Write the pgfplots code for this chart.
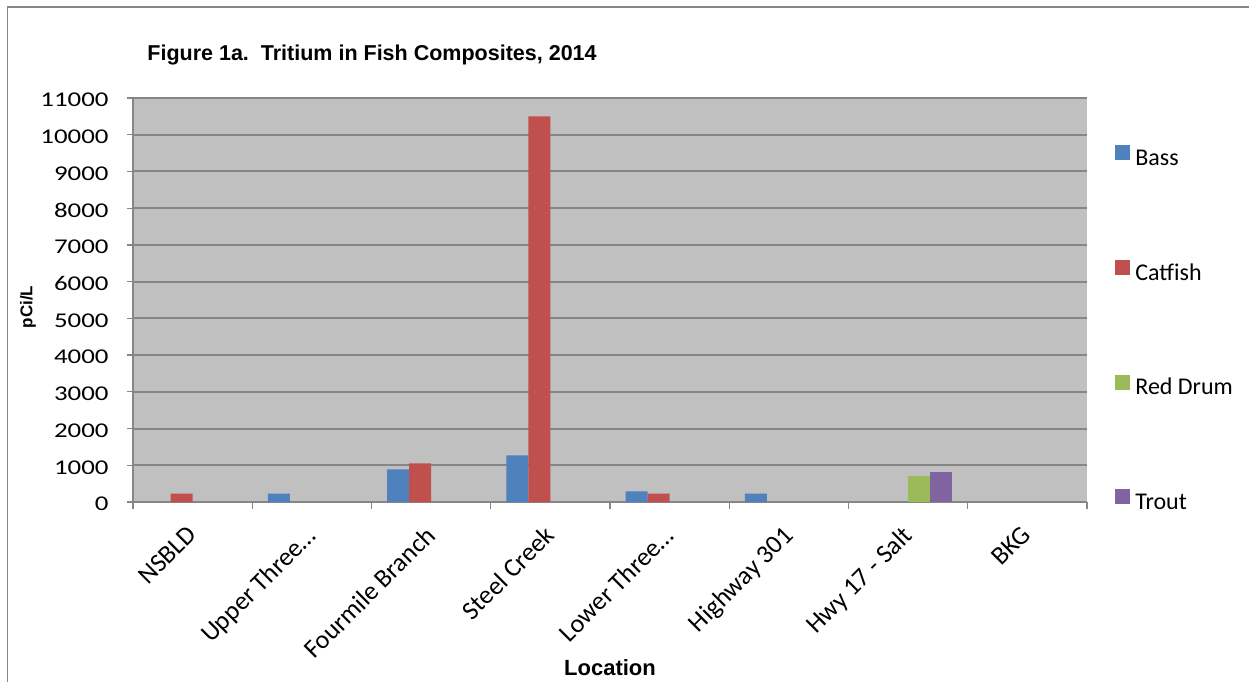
\documentclass[border=0pt]{standalone}
\usepackage{fontspec}
\setmainfont{Carlito}
\newfontfamily\arialfont{Liberation Sans}
\newfontfamily\ytickfont[FakeStretch=1.28]{Carlito}
\usepackage{pgfplots}
\pgfplotsset{compat=1.18}

\definecolor{bass}{HTML}{4F81BD}
\definecolor{catfish}{HTML}{C0504D}
\definecolor{reddrum}{HTML}{9BBB59}
\definecolor{trout}{HTML}{8064A2}
\definecolor{plotbg}{HTML}{C0C0C0}
\definecolor{gridgray}{HTML}{868686}

\begin{document}
\begin{tikzpicture}
\useasboundingbox (0,0) rectangle (624.5pt,-340.5pt);
\draw[gridgray, line width=0.7pt] (3.8pt,-345pt) -- (3.8pt,-3.4pt) -- (630pt,-3.4pt);
\begin{axis}[
  at={(66.5pt,-251pt)}, anchor=south west,
  scale only axis, width=477pt, height=202pt,
  axis background/.style={fill=plotbg},
  axis x line=bottom, axis y line=left,
  axis line style={-, draw=gridgray, line width=1pt},
  xmin=-0.5, xmax=7.5, ymin=0, ymax=11000,
  ytick distance=1000,
  scaled y ticks=false,
  xtick={0,...,7},
  xticklabels={NSBLD,Upper Three…,Fourmile Branch,Steel Creek,Lower Three…,Highway 301,Hwy 17 - Salt,BKG},
  minor xtick={-0.5,0.5,...,7.5},
  major x tick style={draw=none},
  tick align=outside,
  major tick length=3pt, minor tick length=3.5pt,
  tick style={draw=gridgray, line width=0.6pt},
  ymajorgrids, grid style={draw=gridgray, line width=1pt},
  /pgf/number format/1000 sep={},
  /pgf/number format/assume math mode=true,
  yticklabel style={font=\ytickfont\fontsize{10.5}{12}\selectfont, inner sep=0pt, xshift=-9pt, yshift=-1pt},
  xticklabel style={font=\fontsize{13}{15}\selectfont, xshift=-3.5pt, yshift=-8pt, rotate=45, anchor=north east, inner sep=0pt},
  ybar=0pt, bar width=11pt,
  every axis title shift=0pt,
  title={Figure 1a.\ \ Tritium in Fish Composites, 2014},
  title style={font=\arialfont\bfseries\fontsize{10.75}{12}\selectfont, at={(axis description cs:0.01468,1.107)}, anchor=west, inner sep=0pt},
  xlabel={Location},
  xlabel style={font=\arialfont\bfseries\fontsize{11}{13}\selectfont, at={(axis description cs:0.5,-0.4109)}, anchor=center, inner sep=0pt},
  ylabel={pCi/L},
  ylabel style={font=\arialfont\bfseries\fontsize{8.5}{10}\selectfont, at={(axis description cs:-0.1101,0.4827)}, anchor=center, inner sep=0pt},
  legend image code/.code={\fill[#1] (0pt,-0.5pt) rectangle (7.5pt,7pt);},
  legend style={at={(axis description cs:1.02935,0.88366)}, anchor=north west, draw=none, fill=none,
    font=\fontsize{12}{14}\selectfont, inner sep=0pt, row sep=44.3pt, column sep=2.5pt,
    nodes={inner sep=0pt, text height=9pt, text depth=3pt}},
  legend cell align=left,
]
\addplot[fill=bass, draw=none] coordinates {(1,230) (2,890) (3,1270) (4,290) (5,230)};
\addplot[fill=catfish, draw=none] coordinates {(0,230) (2,1050) (3,10500) (4,230)};
\addplot[fill=reddrum, draw=none] coordinates {(6,700)};
\addplot[fill=trout, draw=none] coordinates {(6,810)};
\legend{Bass,Catfish,Red Drum,Trout}
\end{axis}
\end{tikzpicture}
\end{document}
